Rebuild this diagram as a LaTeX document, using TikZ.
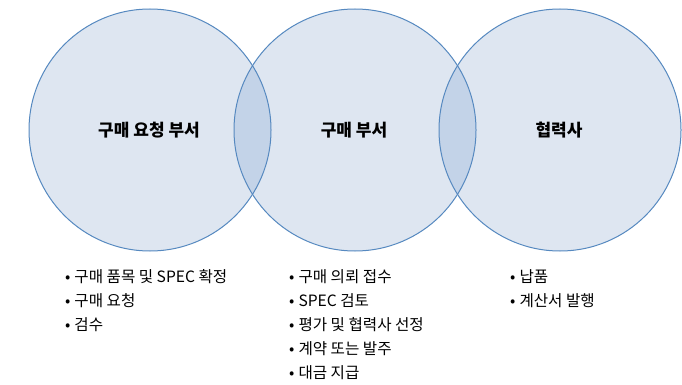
\documentclass[tikz,border=0pt]{standalone}
\usepackage{fontspec}
\newfontfamily\kr{Noto Sans CJK KR}
\definecolor{cfill}{HTML}{DEE6F1}
\definecolor{cover}{HTML}{C3D3E8}
\definecolor{cline}{HTML}{5689C0}
\begin{document}
\begin{tikzpicture}[x=1pt,y=-1pt,
  venn/.style={circle,minimum size=242pt,inner sep=0pt,draw=cline,line width=1pt},
  title/.style={font=\kr\bfseries\fontsize{17}{20}\selectfont,text=black},
  item/.style={font=\kr\fontsize{15.6}{18}\selectfont,anchor=west,inner sep=0pt,text=black}]
\useasboundingbox (0,0) rectangle (682,385);
% fills
\fill[cfill] (150,130) circle (121);
\fill[cfill] (355,130) circle (121);
\fill[cfill] (560,130) circle (121);
\begin{scope}
\clip (150,130) circle (121);
\fill[cover] (355,130) circle (121);
\end{scope}
\begin{scope}
\clip (355,130) circle (121);
\fill[cover] (560,130) circle (121);
\end{scope}
\node[venn] (c1) at (150,130) {};
\node[venn] (c2) at (355,130) {};
\node[venn] (c3) at (560,130) {};
\node[title] (t1) at (149,130) {구매 요청 부서};
\node[title] (t2) at (354,130) {구매 부서};
\node[title] (t3) at (559,130) {협력사};
% lists
\node[item] (l1) at (65,277) {•\hspace{4pt}구매 품목 및 SPEC 확정};
\node[item] (l2) at (65,301) {•\hspace{4pt}구매 요청};
\node[item] (l3) at (65,325) {•\hspace{4pt}검수};
\node[item] (m1) at (289,277) {•\hspace{4pt}구매 의뢰 접수};
\node[item] (m2) at (289,301) {•\hspace{4pt}SPEC 검토};
\node[item] (m3) at (289,325) {•\hspace{4pt}평가 및 협력사 선정};
\node[item] (m4) at (289,349) {•\hspace{4pt}계약 또는 발주};
\node[item] (m5) at (289,373) {•\hspace{4pt}대금 지급};
\node[item] (r1) at (510,277) {•\hspace{4pt}납품};
\node[item] (r2) at (510,301) {•\hspace{4pt}계산서 발행};
\end{tikzpicture}
\end{document}
